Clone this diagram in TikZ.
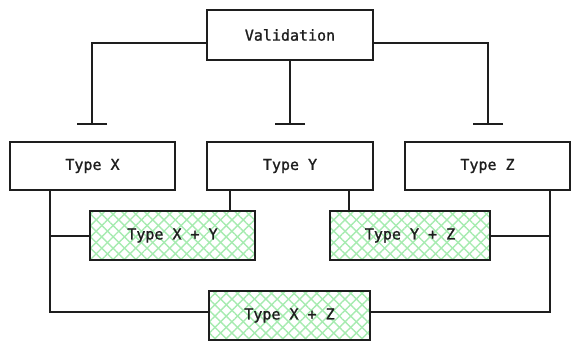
\documentclass[tikz,border=0pt]{standalone}
\usepackage{fontspec}
\setmonofont[FakeBold=1.2]{DejaVu Sans Mono}
\usetikzlibrary{arrows.meta,patterns.meta}
\definecolor{ink}{HTML}{1E1E1E}
\definecolor{hatch}{HTML}{A6EBB0}
\tikzset{
  box/.style={draw=ink, line width=2.2pt, fill=white, rectangle, font=\ttfamily\fontsize{15}{17}\selectfont, text=ink},
  greenbox/.style={draw=ink, line width=2.2pt, rectangle, font=\ttfamily\fontsize{15}{17}\selectfont, text=ink,
    preaction={pattern={Lines[angle=45,distance=8pt,line width=1.4pt]}, pattern color=hatch},
    preaction={pattern={Lines[angle=-45,distance=8pt,line width=1.4pt]}, pattern color=hatch}},
  link/.style={draw=ink, line width=2pt},
  teelink/.style={link, -{Bar[width=30pt,line width=2pt]}}
}
\begin{document}
\begin{tikzpicture}[x=1pt,y=-1pt]
\useasboundingbox (0,0) rectangle (580,350);
\node[box, minimum width=166pt, minimum height=50pt] (val) at (290,35) {Validation};
\node[box, minimum width=165pt, minimum height=48pt] (tx) at (92.5,166) {\raisebox{-2pt}{Type X}};
\node[box, minimum width=166pt, minimum height=48pt] (ty) at (290,166) {\raisebox{-2pt}{Type Y}};
\node[box, minimum width=165pt, minimum height=48pt] (tz) at (487.5,166) {\raisebox{-2pt}{Type Z}};
\node[greenbox, minimum width=165pt, minimum height=49pt] (xy) at (172.5,235.5) {\raisebox{-1pt}{Type X + Y}};
\node[greenbox, minimum width=160pt, minimum height=49pt] (yz) at (410,235.5) {\raisebox{-1pt}{Type Y + Z}};
\node[greenbox, minimum width=161pt, minimum height=49pt] (xz) at (289.5,315.5) {\raisebox{-1pt}{Type X + Z}};
\coordinate (tl) at (92,125);
\coordinate (tm) at (290,125);
\coordinate (tr) at (488,125);
\coordinate (xl) at ([xshift=-42.5pt]tx.south);
\coordinate (zl) at ([xshift=62.5pt]tz.south);
\draw[teelink] ([yshift=-8pt]val.west) -| (tl);
\draw[teelink] (val.south) -- (tm);
\draw[teelink] ([yshift=-8pt]val.east) -| (tr);
\draw[link] (xl) |- ([yshift=4pt]xz.west);
\draw[link] (xy.west) -- (xy.west -| xl);
\draw[link] ([xshift=-60pt]ty.south) -- ([xshift=-60pt]ty.south |- xy.north);
\draw[link] ([xshift=59pt]ty.south) -- ([xshift=59pt]ty.south |- yz.north);
\draw[link] (zl) |- ([yshift=4pt]xz.east);
\draw[link] (yz.east) -- (yz.east -| zl);
\end{tikzpicture}
\end{document}
